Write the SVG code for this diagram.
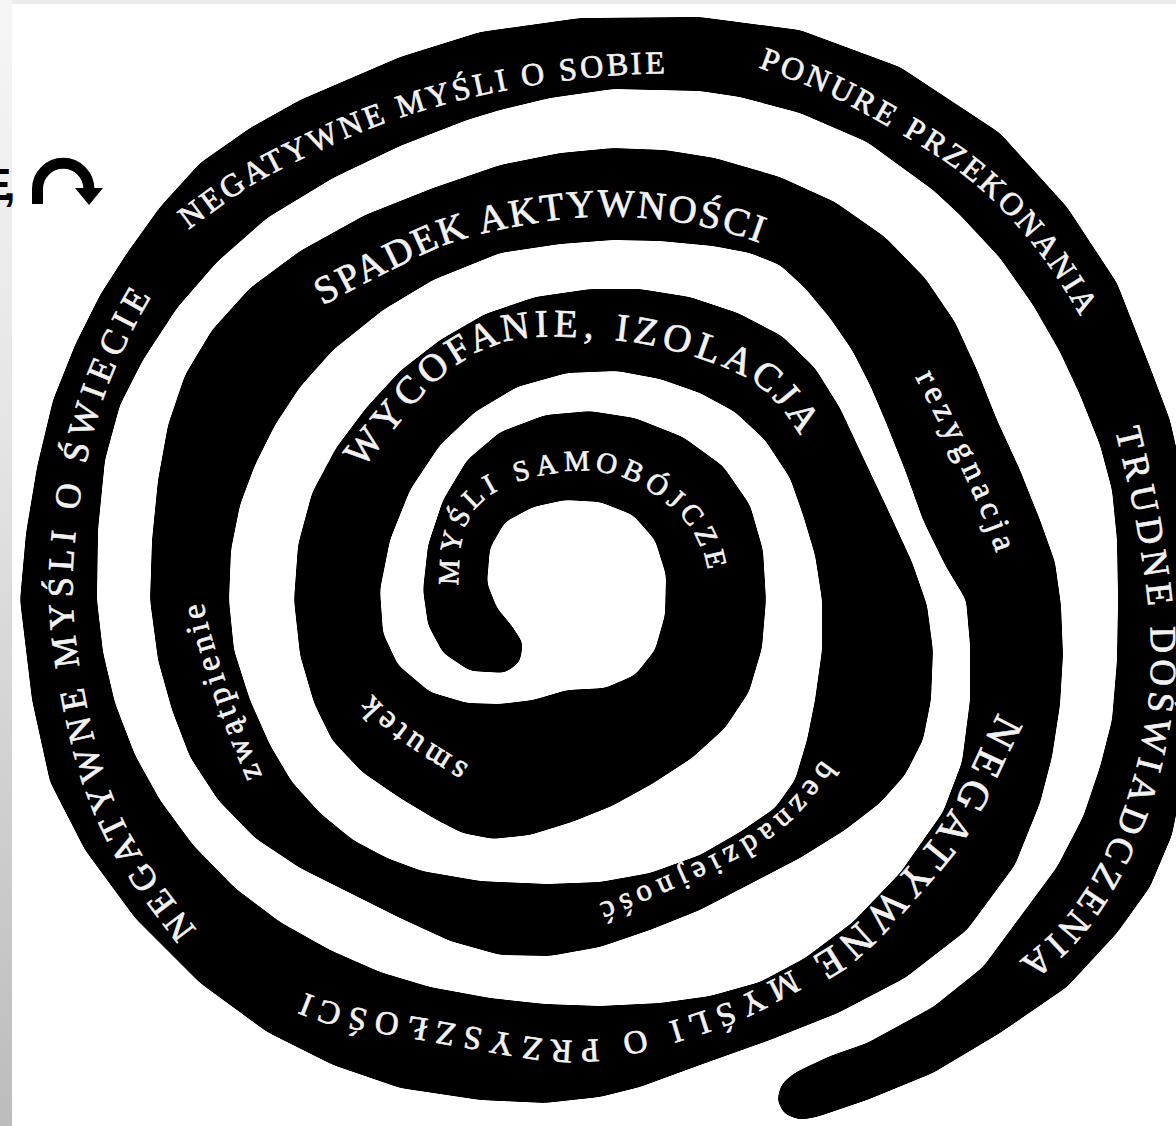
<svg xmlns="http://www.w3.org/2000/svg" width="1176" height="1126" viewBox="0 0 1176 1126">
<defs>
<linearGradient id="strip" x1="0" y1="0" x2="0" y2="1">
<stop offset="0" stop-color="#f6f6f6"/>
<stop offset="0.4" stop-color="#e4e4e4"/>
<stop offset="1" stop-color="#bcbcbc"/>
</linearGradient>
<filter id="smooth" filterUnits="userSpaceOnUse" x="-60" y="-60" width="1300" height="1250">
<feGaussianBlur stdDeviation="4"/>
<feComponentTransfer><feFuncA type="linear" slope="16" intercept="-7.5"/></feComponentTransfer>
</filter>
<style>
.lbl{fill:#f2f2f2;stroke:#f2f2f2;stroke-width:0.7;font-family:"Liberation Serif","DejaVu Serif",serif;dominant-baseline:central}
</style>
<path id="pA" d="M187,937 L158.5,899.5 Q130,862 112.5,826 Q95,790 83.5,745 Q72,700 65,650 Q58,600 62,550 Q66,500 76.5,450 Q87,400 110,350 Q133,300 154,270 Q175,240 230,185"/>
<path id="pB" d="M182,221 L211,199.5 Q240,178 270,162.5 Q300,147 330,133.5 Q360,120 386,111 Q412,102 441,94 Q470,86 500,80 Q530,74 565,69.5 Q600,65 627.5,63.5 Q655,62 687.5,62 Q720,62 760,70 L800,78"/>
<path id="pC" d="M762,57 L796,69.5 Q830,82 857.5,97 Q885,112 917.5,131 Q950,150 975,170 Q1000,190 1022.5,215 Q1045,240 1065,270 Q1085,300 1100,330 Q1115,360 1122.5,390 L1130,420"/>
<path id="pD" d="M1128,427 L1139,473.5 Q1150,520 1156,563.5 Q1163,607 1164,643.5 Q1165,680 1160,715 Q1155,750 1145,785 Q1135,820 1120,852.5 Q1105,885 1087.5,910 Q1070,935 1050,952.5 Q1030,970 1010,985 L990,1000"/>
<path id="pE" d="M316,293 L354.5,273 Q393,253 423,239 Q453,225 499,215.5 Q545,206 578.5,203.5 Q612,201 651,204.5 Q690,208 727.5,218 Q765,228 797.5,244 Q830,260 855,280 L880,300"/>
<path id="pF" d="M925,372 L937.5,396 Q950,420 962.5,445 Q975,470 988,500.5 Q1001,531 1010.5,560.5 L1030,650"/>
<path id="pG" d="M1011,719 L1000.5,739.5 Q990,760 980,782.5 Q970,805 957.5,825 Q945,845 927.5,865 Q910,885 890,907.5 Q870,930 850,947.5 Q830,965 807.5,975 Q785,985 762.5,997.5 Q740,1010 715,1018.5 Q690,1027 668.5,1033.5 Q647,1040 625,1045 Q603,1050 585,1051 Q567,1052 550,1050.5 Q533,1049 499,1043 Q465,1037 434,1031.5 Q403,1026 372,1021.5 Q341,1017 324.5,1011.5 Q308,1006 289,998 Q270,990 255,980 L240,970"/>
<path id="pH" d="M252,780 L239.5,750.5 Q227,721 217,691 Q207,661 200,637 Q193,613 190,587 L189,500"/>
<path id="pI" d="M351,460 L368,439 Q385,418 405,394 Q425,370 450.5,352.5 Q476,335 503,328 Q530,321 572.5,323 Q615,325 642.5,329.5 Q670,334 703,345 Q736,356 754,366 Q772,376 788.5,395.5 Q805,415 817.5,437.5 L830,460"/>
<path id="pJ" d="M831,766 L813,790.5 Q795,815 775,830 Q755,845 734,856 Q713,867 696.5,874.5 Q680,882 661.5,890 Q643,898 626.5,905 Q610,912 590,918.5 Q570,925 550,927.5 L530,930"/>
<path id="pK" d="M463,775 L446.5,765 Q430,755 415,745 Q400,735 386.5,723.5 Q373,712 361.5,698.5 Q350,685 335,650"/>
<path id="pL" d="M448,585 L449,564 Q450,543 455,527.5 Q460,512 471.5,498.5 Q483,485 504,476.5 Q525,468 549,464 Q573,460 587.5,460.5 Q602,461 621,466.5 Q640,472 655,482.5 Q670,493 682.5,504 Q695,515 703.5,530 Q712,545 716,560 Q720,575 720,592.5 L720,610"/>
</defs>
<rect x="0" y="0" width="1176" height="1126" fill="#ffffff"/>
<rect x="0" y="0" width="1176" height="4" fill="#ebebeb"/>
<rect x="0" y="0" width="12" height="1126" fill="url(#strip)"/>
<g id="fragment">
<text x="-18" y="200" letter-spacing="-8" font-family="Liberation Sans, Arial, sans-serif" font-weight="bold" font-size="44" fill="#000">E,</text>
<path d="M37.5,204 L37.5,189 A25.7,25.7 0 0 1 88.9,189" fill="none" stroke="#000" stroke-width="11"/>
<polygon points="75,188 103,188 89,205" fill="#000"/>
</g>
<g id="spiral" filter="url(#smooth)">
<path fill="#000" d="M505 673 L470 671 443 653 428 625 423 590 428 545 443 500 467 460 500 432 545 415 590 411 635 418 683 437 723 466 750 505 763 550 766 600 762 648 749 692 725 728 692 758 652 784 612 806 572 822 530 835 493 839 462 833 435 819 400 798 362 772 332 740 314 703 300 655 294 600 298 545 312 493 336 448 366 408 400 371 440 340 485 314 535 297 590 289 640 289 690 297 738 313 782 336 815 368 840 408 862 455 888 510 912 562 927 605 933 650 931 700 923 740 905 775 880 803 845 830 800 858 750 884 700 910 650 930 600 947 550 956 500 955 450 941 400 918 350 893 300 868 255 838 218 800 190 757 172 710 158 660 150 600 152 540 158 480 168 425 185 375 212 330 250 288 300 251 365 215 433 188 500 165 560 153 613 148 665 150 715 158 780 177 835 202 885 237 925 278 955 322 977 370 997 420 1020 470 1040 520 1055 562 1061 605 1063 655 1060 705 1052 757 1040 803 1015 865 967 930 905 978 838 1013 770 1040 700 1065 640 1087 600 1097 545 1103 480 1100 400 1088 333 1065 267 1032 200 983 135 918 85 850 50 782 32 700 20 600 26 533 37 467 53 400 75 345 100 295 127 253 160 207 200 163 250 128 300 100 400 57 480 32 580 18 700 17 800 30 900 67 1000 133 1067 207 1117 283 1150 367 1170 420 1188 500 1195 600 1192 700 1183 780 1172 835 1150 887 1117 933 1067 987 1000 1033 933 1073 867 1100 817 1117 800 1120 784 1114 777 1100 781 1085 790 1076 800 1070 830 1056 867 1043 933 1007 983 967 1020 917 1057 867 1083 817 1100 767 1112 720 1117 660 1118 600 1117 540 1112 490 1100 445 1080 395 1060 352 1033 305 1000 258 960 215 933 190 867 142 800 113 740 97 700 91 613 89 550 98 500 110 467 120 400 146 333 178 267 218 217 262 177 308 143 360 120 405 105 460 98 530 97 600 103 652 115 703 135 755 160 800 193 845 235 888 280 922 330 950 380 972 430 987 490 998 545 1004 600 1006 660 1003 710 996 760 982 805 958 853 922 900 873 943 812 962 762 970 700 970 645 966 600 945 565 923 520 905 470 885 420 870 385 852 350 830 318 805 288 780 265 750 253 713 246 660 241 613 240 560 244 500 253 433 280 383 310 333 350 300 387 275 425 255 465 240 505 231 550 229 600 234 650 250 700 270 745 292 782 320 813 353 840 387 858 422 871 480 881 547 884 600 882 650 873 700 855 740 832 775 808 795 780 807 740 815 700 822 650 822 600 815 555 803 515 790 478 765 440 735 412 700 393 660 379 617 371 567 373 517 387 475 412 440 445 410 490 390 540 380 590 383 633 398 665 430 692 467 703 500 704 533 700 567 690 605 688 635 675 655 650 665 615 666 575 655 540 633 515 600 502 565 500 533 507 505 522 490 548 487 583 497 608 512 626 523 643 520 662 Z"/>
</g>
<g id="labels">
<text class="lbl" font-size="36" letter-spacing="6.4"><textPath href="#pA">NEGATYWNE MYŚLI O ŚWIECIE</textPath></text>
<text class="lbl" font-size="32" letter-spacing="3.5"><textPath href="#pB">NEGATYWNE MYŚLI O SOBIE</textPath></text>
<text class="lbl" font-size="32" letter-spacing="3.6"><textPath href="#pC">PONURE PRZEKONANIA</textPath></text>
<text class="lbl" font-size="37" letter-spacing="6.2"><textPath href="#pD">TRUDNE DOŚWIADCZENIA</textPath></text>
<text class="lbl" font-size="39" letter-spacing="3.2"><textPath href="#pE">SPADEK AKTYWNOŚCI</textPath></text>
<text class="lbl" font-size="33" letter-spacing="5.8"><textPath href="#pF">rezygnacja</textPath></text>
<text class="lbl"><textPath href="#pG"><tspan font-size="42" letter-spacing="7.1">NEGATYWNE</tspan><tspan font-size="33" letter-spacing="8.5"> MYŚLI O PRZYSZŁOŚCI</tspan></textPath></text>
<text class="lbl" font-size="33" letter-spacing="4.7"><textPath href="#pH">zwątpienie</textPath></text>
<text class="lbl" font-size="39" letter-spacing="6.2"><textPath href="#pI">WYCOFANIE, IZOLACJA</textPath></text>
<text class="lbl" font-size="31" letter-spacing="6.8"><textPath href="#pJ">beznadziejność</textPath></text>
<text class="lbl" font-size="33" letter-spacing="5.6"><textPath href="#pK">smutek</textPath></text>
<text class="lbl" font-size="29" letter-spacing="7.3"><textPath href="#pL">MYŚLI SAMOBÓJCZE</textPath></text>
</g>
</svg>
